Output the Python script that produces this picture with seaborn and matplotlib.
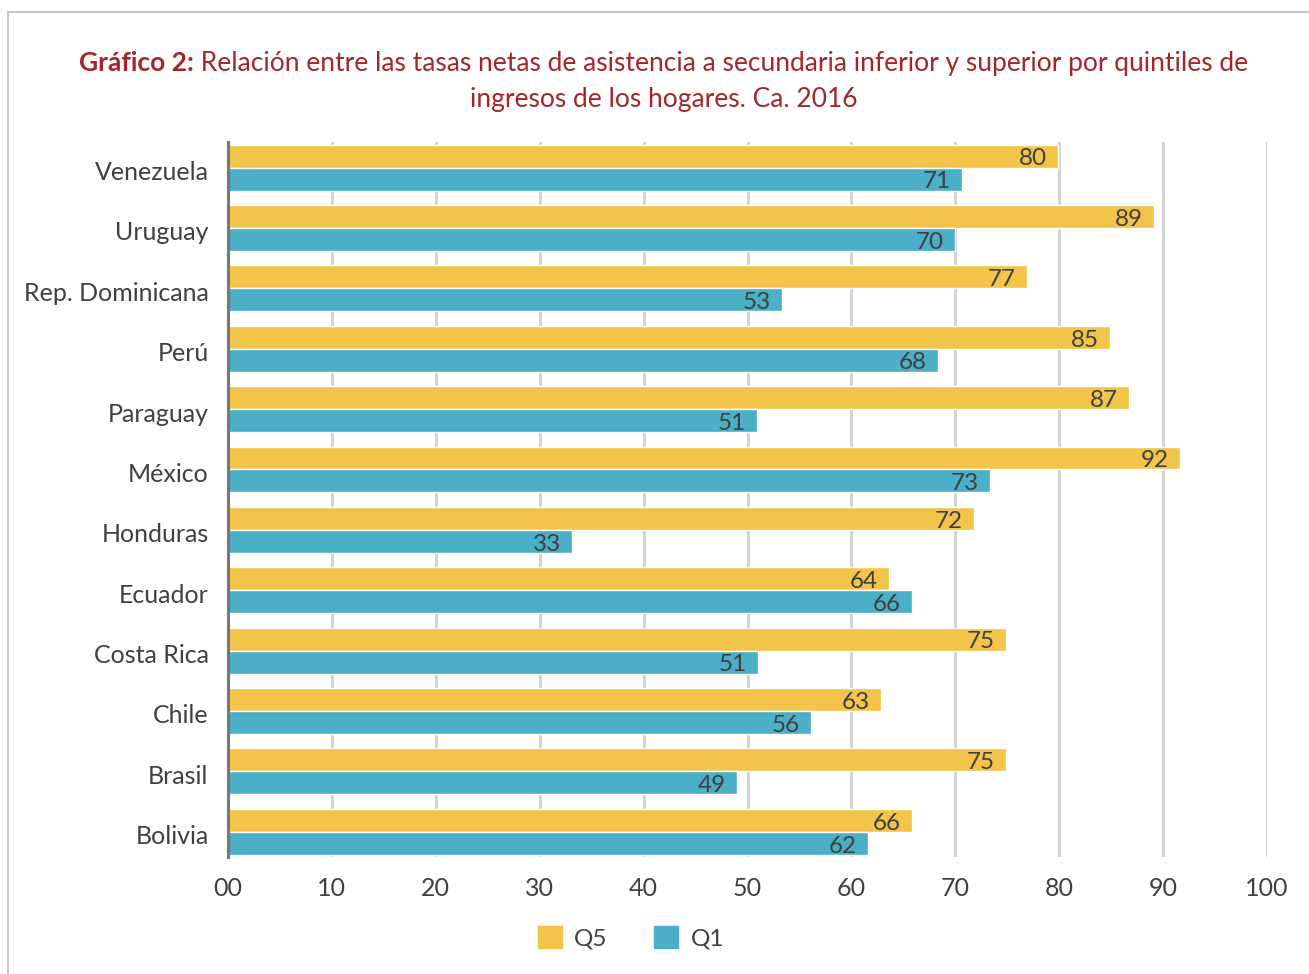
import pandas as pd
import matplotlib.pyplot as plt
import matplotlib.patches as mpatches
import matplotlib.transforms as mtrans
import seaborn as sns

# Datos
paises = ['Venezuela', 'Uruguay', 'Rep. Dominicana', 'Perú', 'Paraguay', 'México',
          'Honduras', 'Ecuador', 'Costa Rica', 'Chile', 'Brasil', 'Bolivia']
q5 = [79.9, 89.1, 76.9, 84.9, 86.7, 91.6, 71.8, 63.6, 74.9, 62.8, 74.9, 65.8]
q1 = [70.6, 70.0, 53.3, 68.3, 50.9, 73.3, 33.1, 65.8, 51.0, 56.1, 49.0, 61.6]
xticks = [0, 10, 20, 30, 40, 50, 60, 70, 80, 90, 100]
xticklabels = ['00', '10', '20', '30', '40', '50', '60', '70', '80', '90', '100']

AMARILLO = '#F2C54A'
AZUL = '#4AAFC7'
GRIS_TXT = '#404040'
ROJO = '#A3262A'

df = pd.DataFrame({'pais': paises * 2,
                   'valor': q5 + q1,
                   'quintil': ['Q5'] * len(paises) + ['Q1'] * len(paises)})

sns.set_style('white')
plt.rcParams['font.family'] = ['Lato', 'DejaVu Sans']

fig = plt.figure(figsize=(13.09, 9.74), dpi=100)
ax = fig.add_axes([0.1742, 0.120, 0.7938, 0.734])

sns.barplot(data=df, y='pais', x='valor', hue='quintil', hue_order=['Q5', 'Q1'],
            order=paises, palette=[AMARILLO, AZUL], saturation=1, width=0.76,
            orient='h', edgecolor='white', linewidth=1, legend=False, ax=ax, zorder=3)

# etiquetas de valor dentro del extremo de la barra
for cont in ax.containers:
    txts = ax.bar_label(cont, labels=[f'{v.get_width():.0f}' for v in cont],
                        padding=-8, fontsize=17.5, color=GRIS_TXT)
    for t in txts:
        t.set_ha('right')
        t.set_va('center')
        t.xyann = (t.xyann[0], -2)

ax.set_xlim(0, 100)
ax.set_ylim(11.42, -0.42)
ax.set_xticks(xticks)
ax.set_xticklabels(xticklabels)
ax.xaxis.grid(True, color='#d0d0d0', linewidth=2, zorder=0)
ax.set_axisbelow(True)
ax.set_xlabel('')
ax.set_ylabel('')
ax.tick_params(axis='x', labelsize=18, labelcolor=GRIS_TXT, length=0, pad=14)
ax.tick_params(axis='y', labelsize=18, labelcolor=GRIS_TXT, length=0, pad=14)
desplaza = mtrans.ScaledTranslation(0, -3 / 100, fig.dpi_scale_trans)
for lab in ax.get_yticklabels():
    lab.set_transform(lab.get_transform() + desplaza)
for s in ['top', 'right', 'bottom']:
    ax.spines[s].set_visible(False)
ax.spines['left'].set_color('#777777')
ax.spines['left'].set_linewidth(2.2)
ax.spines['left'].set_zorder(5)

# leyenda
handles = [mpatches.Patch(color=AMARILLO, label='Q5'),
           mpatches.Patch(color=AZUL, label='Q1')]
fig.legend(handles=handles, loc='center', bbox_to_anchor=(0.482, 0.037), ncol=2,
           frameon=False, fontsize=17.5, labelcolor=GRIS_TXT, handlelength=1.0,
           handleheight=1.0, handletextpad=0.5, columnspacing=1.9)

# titulo con parte en negrita
t1 = fig.text(0, 0.935, 'Gráfico 2:', fontsize=19, fontweight='bold', color=ROJO,
              ha='left', va='center')
t2 = fig.text(0, 0.935, ' Relación entre las tasas netas de asistencia a secundaria inferior '
              'y superior por quintiles de', fontsize=19, color=ROJO, ha='left', va='center')
fig.text(0.507, 0.898, 'ingresos de los hogares. Ca. 2016', fontsize=19, color=ROJO,
         ha='center', va='center')
fig.canvas.draw()
r = fig.canvas.get_renderer()
w1 = t1.get_window_extent(r).width
w2 = t2.get_window_extent(r).width
x0 = 0.507 * fig.bbox.width - (w1 + w2) / 2
t1.set_x(x0 / fig.bbox.width)
t2.set_x((x0 + w1) / fig.bbox.width)

# marco gris
fig.patches.append(mpatches.Rectangle((8 / 1309, -0.1), 1.2, (974 - 12) / 974 + 0.1,
                                      transform=fig.transFigure, fill=False,
                                      edgecolor='#bbbbbb', linewidth=1.2))

fig.savefig('out.png', dpi=100)
